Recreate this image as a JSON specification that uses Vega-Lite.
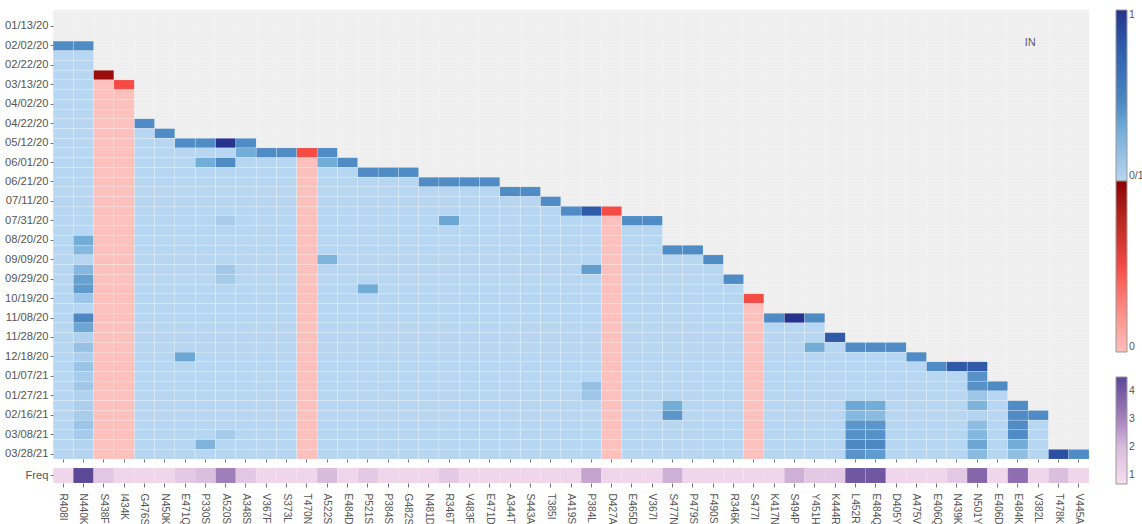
{"$schema":"https://vega.github.io/schema/vega-lite/v6.json","padding":{"left":4,"top":10,"right":0,"bottom":0},"bounds":"flush","spacing":9,"background":"#ffffff","config":{"view":{"stroke":null},"font":"Liberation Sans","axis":{"labelFont":"Liberation Sans","labelFontSize":11.2,"labelColor":"#555555","tickColor":"#777777","domain":false,"title":null},"legend":{"labelFont":"Liberation Sans","labelFontSize":10.5,"labelOffset":3,"labelColor":"#555555"}},
"datasets":{"cells":[
{"m":"R408I","d":"02/02/20","v":1.45},{"m":"R408I","d":"02/12/20","v":1},{"m":"R408I","d":"02/22/20","v":1},{"m":"R408I","d":"03/03/20","v":1},{"m":"R408I","d":"03/13/20","v":1},{"m":"R408I","d":"03/23/20","v":1},{"m":"R408I","d":"04/02/20","v":1},{"m":"R408I","d":"04/12/20","v":1},{"m":"R408I","d":"04/22/20","v":1},{"m":"R408I","d":"05/02/20","v":1},{"m":"R408I","d":"05/12/20","v":1},{"m":"R408I","d":"05/22/20","v":1},{"m":"R408I","d":"06/01/20","v":1},{"m":"R408I","d":"06/11/20","v":1},{"m":"R408I","d":"06/21/20","v":1},{"m":"R408I","d":"07/01/20","v":1},{"m":"R408I","d":"07/11/20","v":1},{"m":"R408I","d":"07/21/20","v":1},{"m":"R408I","d":"07/31/20","v":1},{"m":"R408I","d":"08/10/20","v":1},{"m":"R408I","d":"08/20/20","v":1},{"m":"R408I","d":"08/30/20","v":1},{"m":"R408I","d":"09/09/20","v":1},{"m":"R408I","d":"09/19/20","v":1},{"m":"R408I","d":"09/29/20","v":1},{"m":"R408I","d":"10/09/20","v":1},{"m":"R408I","d":"10/19/20","v":1},{"m":"R408I","d":"10/29/20","v":1},{"m":"R408I","d":"11/08/20","v":1},{"m":"R408I","d":"11/18/20","v":1},{"m":"R408I","d":"11/28/20","v":1},{"m":"R408I","d":"12/08/20","v":1},{"m":"R408I","d":"12/18/20","v":1},{"m":"R408I","d":"12/28/20","v":1},{"m":"R408I","d":"01/07/21","v":1},{"m":"R408I","d":"01/17/21","v":1},{"m":"R408I","d":"01/27/21","v":1},{"m":"R408I","d":"02/06/21","v":1},{"m":"R408I","d":"02/16/21","v":1},{"m":"R408I","d":"02/26/21","v":1},{"m":"R408I","d":"03/08/21","v":1},{"m":"R408I","d":"03/18/21","v":1},{"m":"R408I","d":"03/28/21","v":1},
{"m":"N440K","d":"02/02/20","v":1.45},{"m":"N440K","d":"02/12/20","v":1},{"m":"N440K","d":"02/22/20","v":1},{"m":"N440K","d":"03/03/20","v":1},{"m":"N440K","d":"03/13/20","v":1},{"m":"N440K","d":"03/23/20","v":1},{"m":"N440K","d":"04/02/20","v":1},{"m":"N440K","d":"04/12/20","v":1},{"m":"N440K","d":"04/22/20","v":1},{"m":"N440K","d":"05/02/20","v":1},{"m":"N440K","d":"05/12/20","v":1},{"m":"N440K","d":"05/22/20","v":1},{"m":"N440K","d":"06/01/20","v":1},{"m":"N440K","d":"06/11/20","v":1},{"m":"N440K","d":"06/21/20","v":1},{"m":"N440K","d":"07/01/20","v":1},{"m":"N440K","d":"07/11/20","v":1},{"m":"N440K","d":"07/21/20","v":1},{"m":"N440K","d":"07/31/20","v":1},{"m":"N440K","d":"08/10/20","v":1},{"m":"N440K","d":"08/20/20","v":1.3},{"m":"N440K","d":"08/30/20","v":1.22},{"m":"N440K","d":"09/09/20","v":1},{"m":"N440K","d":"09/19/20","v":1.22},{"m":"N440K","d":"09/29/20","v":1.35},{"m":"N440K","d":"10/09/20","v":1.38},{"m":"N440K","d":"10/19/20","v":1.12},{"m":"N440K","d":"10/29/20","v":1},{"m":"N440K","d":"11/08/20","v":1.47},{"m":"N440K","d":"11/18/20","v":1.33},{"m":"N440K","d":"11/28/20","v":1.03},{"m":"N440K","d":"12/08/20","v":1.15},{"m":"N440K","d":"12/18/20","v":1.05},{"m":"N440K","d":"12/28/20","v":1.13},{"m":"N440K","d":"01/07/21","v":1.07},{"m":"N440K","d":"01/17/21","v":1.1},{"m":"N440K","d":"01/27/21","v":1.03},{"m":"N440K","d":"02/06/21","v":1.05},{"m":"N440K","d":"02/16/21","v":1.07},{"m":"N440K","d":"02/26/21","v":1.12},{"m":"N440K","d":"03/08/21","v":1.08},{"m":"N440K","d":"03/18/21","v":1.02},{"m":"N440K","d":"03/28/21","v":1.02},
{"m":"S438F","d":"03/03/20","v":0.93},{"m":"S438F","d":"03/13/20","v":0},{"m":"S438F","d":"03/23/20","v":0},{"m":"S438F","d":"04/02/20","v":0},{"m":"S438F","d":"04/12/20","v":0},{"m":"S438F","d":"04/22/20","v":0},{"m":"S438F","d":"05/02/20","v":0},{"m":"S438F","d":"05/12/20","v":0},{"m":"S438F","d":"05/22/20","v":0},{"m":"S438F","d":"06/01/20","v":0},{"m":"S438F","d":"06/11/20","v":0},{"m":"S438F","d":"06/21/20","v":0},{"m":"S438F","d":"07/01/20","v":0},{"m":"S438F","d":"07/11/20","v":0},{"m":"S438F","d":"07/21/20","v":0},{"m":"S438F","d":"07/31/20","v":0},{"m":"S438F","d":"08/10/20","v":0},{"m":"S438F","d":"08/20/20","v":0},{"m":"S438F","d":"08/30/20","v":0},{"m":"S438F","d":"09/09/20","v":0},{"m":"S438F","d":"09/19/20","v":0},{"m":"S438F","d":"09/29/20","v":0},{"m":"S438F","d":"10/09/20","v":0},{"m":"S438F","d":"10/19/20","v":0},{"m":"S438F","d":"10/29/20","v":0},{"m":"S438F","d":"11/08/20","v":0},{"m":"S438F","d":"11/18/20","v":0},{"m":"S438F","d":"11/28/20","v":0},{"m":"S438F","d":"12/08/20","v":0},{"m":"S438F","d":"12/18/20","v":0},{"m":"S438F","d":"12/28/20","v":0},{"m":"S438F","d":"01/07/21","v":0},{"m":"S438F","d":"01/17/21","v":0},{"m":"S438F","d":"01/27/21","v":0},{"m":"S438F","d":"02/06/21","v":0},{"m":"S438F","d":"02/16/21","v":0},{"m":"S438F","d":"02/26/21","v":0},{"m":"S438F","d":"03/08/21","v":0},{"m":"S438F","d":"03/18/21","v":0},{"m":"S438F","d":"03/28/21","v":0},
{"m":"I434K","d":"03/13/20","v":0.5},{"m":"I434K","d":"03/23/20","v":0},{"m":"I434K","d":"04/02/20","v":0},{"m":"I434K","d":"04/12/20","v":0},{"m":"I434K","d":"04/22/20","v":0},{"m":"I434K","d":"05/02/20","v":0},{"m":"I434K","d":"05/12/20","v":0},{"m":"I434K","d":"05/22/20","v":0},{"m":"I434K","d":"06/01/20","v":0},{"m":"I434K","d":"06/11/20","v":0},{"m":"I434K","d":"06/21/20","v":0},{"m":"I434K","d":"07/01/20","v":0},{"m":"I434K","d":"07/11/20","v":0},{"m":"I434K","d":"07/21/20","v":0},{"m":"I434K","d":"07/31/20","v":0},{"m":"I434K","d":"08/10/20","v":0},{"m":"I434K","d":"08/20/20","v":0},{"m":"I434K","d":"08/30/20","v":0},{"m":"I434K","d":"09/09/20","v":0},{"m":"I434K","d":"09/19/20","v":0},{"m":"I434K","d":"09/29/20","v":0},{"m":"I434K","d":"10/09/20","v":0},{"m":"I434K","d":"10/19/20","v":0},{"m":"I434K","d":"10/29/20","v":0},{"m":"I434K","d":"11/08/20","v":0},{"m":"I434K","d":"11/18/20","v":0},{"m":"I434K","d":"11/28/20","v":0},{"m":"I434K","d":"12/08/20","v":0},{"m":"I434K","d":"12/18/20","v":0},{"m":"I434K","d":"12/28/20","v":0},{"m":"I434K","d":"01/07/21","v":0},{"m":"I434K","d":"01/17/21","v":0},{"m":"I434K","d":"01/27/21","v":0},{"m":"I434K","d":"02/06/21","v":0},{"m":"I434K","d":"02/16/21","v":0},{"m":"I434K","d":"02/26/21","v":0},{"m":"I434K","d":"03/08/21","v":0},{"m":"I434K","d":"03/18/21","v":0},{"m":"I434K","d":"03/28/21","v":0},
{"m":"G476S","d":"04/22/20","v":1.45},{"m":"G476S","d":"05/02/20","v":1},{"m":"G476S","d":"05/12/20","v":1},{"m":"G476S","d":"05/22/20","v":1},{"m":"G476S","d":"06/01/20","v":1},{"m":"G476S","d":"06/11/20","v":1},{"m":"G476S","d":"06/21/20","v":1},{"m":"G476S","d":"07/01/20","v":1},{"m":"G476S","d":"07/11/20","v":1},{"m":"G476S","d":"07/21/20","v":1},{"m":"G476S","d":"07/31/20","v":1},{"m":"G476S","d":"08/10/20","v":1},{"m":"G476S","d":"08/20/20","v":1},{"m":"G476S","d":"08/30/20","v":1},{"m":"G476S","d":"09/09/20","v":1},{"m":"G476S","d":"09/19/20","v":1},{"m":"G476S","d":"09/29/20","v":1},{"m":"G476S","d":"10/09/20","v":1},{"m":"G476S","d":"10/19/20","v":1},{"m":"G476S","d":"10/29/20","v":1},{"m":"G476S","d":"11/08/20","v":1},{"m":"G476S","d":"11/18/20","v":1},{"m":"G476S","d":"11/28/20","v":1},{"m":"G476S","d":"12/08/20","v":1},{"m":"G476S","d":"12/18/20","v":1},{"m":"G476S","d":"12/28/20","v":1},{"m":"G476S","d":"01/07/21","v":1},{"m":"G476S","d":"01/17/21","v":1},{"m":"G476S","d":"01/27/21","v":1},{"m":"G476S","d":"02/06/21","v":1},{"m":"G476S","d":"02/16/21","v":1},{"m":"G476S","d":"02/26/21","v":1},{"m":"G476S","d":"03/08/21","v":1},{"m":"G476S","d":"03/18/21","v":1},{"m":"G476S","d":"03/28/21","v":1},
{"m":"N450K","d":"05/02/20","v":1.45},{"m":"N450K","d":"05/12/20","v":1},{"m":"N450K","d":"05/22/20","v":1},{"m":"N450K","d":"06/01/20","v":1},{"m":"N450K","d":"06/11/20","v":1},{"m":"N450K","d":"06/21/20","v":1},{"m":"N450K","d":"07/01/20","v":1},{"m":"N450K","d":"07/11/20","v":1},{"m":"N450K","d":"07/21/20","v":1},{"m":"N450K","d":"07/31/20","v":1},{"m":"N450K","d":"08/10/20","v":1},{"m":"N450K","d":"08/20/20","v":1},{"m":"N450K","d":"08/30/20","v":1},{"m":"N450K","d":"09/09/20","v":1},{"m":"N450K","d":"09/19/20","v":1},{"m":"N450K","d":"09/29/20","v":1},{"m":"N450K","d":"10/09/20","v":1},{"m":"N450K","d":"10/19/20","v":1},{"m":"N450K","d":"10/29/20","v":1},{"m":"N450K","d":"11/08/20","v":1},{"m":"N450K","d":"11/18/20","v":1},{"m":"N450K","d":"11/28/20","v":1},{"m":"N450K","d":"12/08/20","v":1},{"m":"N450K","d":"12/18/20","v":1},{"m":"N450K","d":"12/28/20","v":1},{"m":"N450K","d":"01/07/21","v":1},{"m":"N450K","d":"01/17/21","v":1},{"m":"N450K","d":"01/27/21","v":1},{"m":"N450K","d":"02/06/21","v":1},{"m":"N450K","d":"02/16/21","v":1},{"m":"N450K","d":"02/26/21","v":1},{"m":"N450K","d":"03/08/21","v":1},{"m":"N450K","d":"03/18/21","v":1},{"m":"N450K","d":"03/28/21","v":1},
{"m":"E471Q","d":"05/12/20","v":1.45},{"m":"E471Q","d":"05/22/20","v":1},{"m":"E471Q","d":"06/01/20","v":1},{"m":"E471Q","d":"06/11/20","v":1},{"m":"E471Q","d":"06/21/20","v":1},{"m":"E471Q","d":"07/01/20","v":1},{"m":"E471Q","d":"07/11/20","v":1},{"m":"E471Q","d":"07/21/20","v":1},{"m":"E471Q","d":"07/31/20","v":1},{"m":"E471Q","d":"08/10/20","v":1},{"m":"E471Q","d":"08/20/20","v":1},{"m":"E471Q","d":"08/30/20","v":1},{"m":"E471Q","d":"09/09/20","v":1},{"m":"E471Q","d":"09/19/20","v":1},{"m":"E471Q","d":"09/29/20","v":1},{"m":"E471Q","d":"10/09/20","v":1},{"m":"E471Q","d":"10/19/20","v":1},{"m":"E471Q","d":"10/29/20","v":1},{"m":"E471Q","d":"11/08/20","v":1},{"m":"E471Q","d":"11/18/20","v":1},{"m":"E471Q","d":"11/28/20","v":1},{"m":"E471Q","d":"12/08/20","v":1},{"m":"E471Q","d":"12/18/20","v":1.33},{"m":"E471Q","d":"12/28/20","v":1},{"m":"E471Q","d":"01/07/21","v":1},{"m":"E471Q","d":"01/17/21","v":1},{"m":"E471Q","d":"01/27/21","v":1},{"m":"E471Q","d":"02/06/21","v":1},{"m":"E471Q","d":"02/16/21","v":1},{"m":"E471Q","d":"02/26/21","v":1},{"m":"E471Q","d":"03/08/21","v":1},{"m":"E471Q","d":"03/18/21","v":1},{"m":"E471Q","d":"03/28/21","v":1},
{"m":"P330S","d":"05/12/20","v":1.45},{"m":"P330S","d":"05/22/20","v":1},{"m":"P330S","d":"06/01/20","v":1.3},{"m":"P330S","d":"06/11/20","v":1},{"m":"P330S","d":"06/21/20","v":1},{"m":"P330S","d":"07/01/20","v":1},{"m":"P330S","d":"07/11/20","v":1},{"m":"P330S","d":"07/21/20","v":1},{"m":"P330S","d":"07/31/20","v":1},{"m":"P330S","d":"08/10/20","v":1},{"m":"P330S","d":"08/20/20","v":1},{"m":"P330S","d":"08/30/20","v":1},{"m":"P330S","d":"09/09/20","v":1},{"m":"P330S","d":"09/19/20","v":1},{"m":"P330S","d":"09/29/20","v":1},{"m":"P330S","d":"10/09/20","v":1},{"m":"P330S","d":"10/19/20","v":1},{"m":"P330S","d":"10/29/20","v":1},{"m":"P330S","d":"11/08/20","v":1},{"m":"P330S","d":"11/18/20","v":1},{"m":"P330S","d":"11/28/20","v":1},{"m":"P330S","d":"12/08/20","v":1},{"m":"P330S","d":"12/18/20","v":1},{"m":"P330S","d":"12/28/20","v":1},{"m":"P330S","d":"01/07/21","v":1},{"m":"P330S","d":"01/17/21","v":1},{"m":"P330S","d":"01/27/21","v":1},{"m":"P330S","d":"02/06/21","v":1},{"m":"P330S","d":"02/16/21","v":1},{"m":"P330S","d":"02/26/21","v":1},{"m":"P330S","d":"03/08/21","v":1},{"m":"P330S","d":"03/18/21","v":1.25},{"m":"P330S","d":"03/28/21","v":1},
{"m":"A520S","d":"05/12/20","v":2},{"m":"A520S","d":"05/22/20","v":1},{"m":"A520S","d":"06/01/20","v":1.45},{"m":"A520S","d":"06/11/20","v":1},{"m":"A520S","d":"06/21/20","v":1},{"m":"A520S","d":"07/01/20","v":1},{"m":"A520S","d":"07/11/20","v":1},{"m":"A520S","d":"07/21/20","v":1},{"m":"A520S","d":"07/31/20","v":1.07},{"m":"A520S","d":"08/10/20","v":1},{"m":"A520S","d":"08/20/20","v":1},{"m":"A520S","d":"08/30/20","v":1},{"m":"A520S","d":"09/09/20","v":1},{"m":"A520S","d":"09/19/20","v":1.1},{"m":"A520S","d":"09/29/20","v":1.08},{"m":"A520S","d":"10/09/20","v":1},{"m":"A520S","d":"10/19/20","v":1},{"m":"A520S","d":"10/29/20","v":1},{"m":"A520S","d":"11/08/20","v":1},{"m":"A520S","d":"11/18/20","v":1},{"m":"A520S","d":"11/28/20","v":1},{"m":"A520S","d":"12/08/20","v":1},{"m":"A520S","d":"12/18/20","v":1},{"m":"A520S","d":"12/28/20","v":1},{"m":"A520S","d":"01/07/21","v":1},{"m":"A520S","d":"01/17/21","v":1},{"m":"A520S","d":"01/27/21","v":1},{"m":"A520S","d":"02/06/21","v":1},{"m":"A520S","d":"02/16/21","v":1},{"m":"A520S","d":"02/26/21","v":1},{"m":"A520S","d":"03/08/21","v":1.08},{"m":"A520S","d":"03/18/21","v":1},{"m":"A520S","d":"03/28/21","v":1},
{"m":"A348S","d":"05/12/20","v":1.45},{"m":"A348S","d":"05/22/20","v":1.3},{"m":"A348S","d":"06/01/20","v":1},{"m":"A348S","d":"06/11/20","v":1},{"m":"A348S","d":"06/21/20","v":1},{"m":"A348S","d":"07/01/20","v":1},{"m":"A348S","d":"07/11/20","v":1},{"m":"A348S","d":"07/21/20","v":1},{"m":"A348S","d":"07/31/20","v":1},{"m":"A348S","d":"08/10/20","v":1},{"m":"A348S","d":"08/20/20","v":1},{"m":"A348S","d":"08/30/20","v":1},{"m":"A348S","d":"09/09/20","v":1},{"m":"A348S","d":"09/19/20","v":1},{"m":"A348S","d":"09/29/20","v":1},{"m":"A348S","d":"10/09/20","v":1},{"m":"A348S","d":"10/19/20","v":1},{"m":"A348S","d":"10/29/20","v":1},{"m":"A348S","d":"11/08/20","v":1},{"m":"A348S","d":"11/18/20","v":1},{"m":"A348S","d":"11/28/20","v":1},{"m":"A348S","d":"12/08/20","v":1},{"m":"A348S","d":"12/18/20","v":1},{"m":"A348S","d":"12/28/20","v":1},{"m":"A348S","d":"01/07/21","v":1},{"m":"A348S","d":"01/17/21","v":1},{"m":"A348S","d":"01/27/21","v":1},{"m":"A348S","d":"02/06/21","v":1},{"m":"A348S","d":"02/16/21","v":1},{"m":"A348S","d":"02/26/21","v":1},{"m":"A348S","d":"03/08/21","v":1},{"m":"A348S","d":"03/18/21","v":1},{"m":"A348S","d":"03/28/21","v":1},
{"m":"V367F","d":"05/22/20","v":1.45},{"m":"V367F","d":"06/01/20","v":1},{"m":"V367F","d":"06/11/20","v":1},{"m":"V367F","d":"06/21/20","v":1},{"m":"V367F","d":"07/01/20","v":1},{"m":"V367F","d":"07/11/20","v":1},{"m":"V367F","d":"07/21/20","v":1},{"m":"V367F","d":"07/31/20","v":1},{"m":"V367F","d":"08/10/20","v":1},{"m":"V367F","d":"08/20/20","v":1},{"m":"V367F","d":"08/30/20","v":1},{"m":"V367F","d":"09/09/20","v":1},{"m":"V367F","d":"09/19/20","v":1},{"m":"V367F","d":"09/29/20","v":1},{"m":"V367F","d":"10/09/20","v":1},{"m":"V367F","d":"10/19/20","v":1},{"m":"V367F","d":"10/29/20","v":1},{"m":"V367F","d":"11/08/20","v":1},{"m":"V367F","d":"11/18/20","v":1},{"m":"V367F","d":"11/28/20","v":1},{"m":"V367F","d":"12/08/20","v":1},{"m":"V367F","d":"12/18/20","v":1},{"m":"V367F","d":"12/28/20","v":1},{"m":"V367F","d":"01/07/21","v":1},{"m":"V367F","d":"01/17/21","v":1},{"m":"V367F","d":"01/27/21","v":1},{"m":"V367F","d":"02/06/21","v":1},{"m":"V367F","d":"02/16/21","v":1},{"m":"V367F","d":"02/26/21","v":1},{"m":"V367F","d":"03/08/21","v":1},{"m":"V367F","d":"03/18/21","v":1},{"m":"V367F","d":"03/28/21","v":1},
{"m":"S373L","d":"05/22/20","v":1.45},{"m":"S373L","d":"06/01/20","v":1},{"m":"S373L","d":"06/11/20","v":1},{"m":"S373L","d":"06/21/20","v":1},{"m":"S373L","d":"07/01/20","v":1},{"m":"S373L","d":"07/11/20","v":1},{"m":"S373L","d":"07/21/20","v":1},{"m":"S373L","d":"07/31/20","v":1},{"m":"S373L","d":"08/10/20","v":1},{"m":"S373L","d":"08/20/20","v":1},{"m":"S373L","d":"08/30/20","v":1},{"m":"S373L","d":"09/09/20","v":1},{"m":"S373L","d":"09/19/20","v":1},{"m":"S373L","d":"09/29/20","v":1},{"m":"S373L","d":"10/09/20","v":1},{"m":"S373L","d":"10/19/20","v":1},{"m":"S373L","d":"10/29/20","v":1},{"m":"S373L","d":"11/08/20","v":1},{"m":"S373L","d":"11/18/20","v":1},{"m":"S373L","d":"11/28/20","v":1},{"m":"S373L","d":"12/08/20","v":1},{"m":"S373L","d":"12/18/20","v":1},{"m":"S373L","d":"12/28/20","v":1},{"m":"S373L","d":"01/07/21","v":1},{"m":"S373L","d":"01/17/21","v":1},{"m":"S373L","d":"01/27/21","v":1},{"m":"S373L","d":"02/06/21","v":1},{"m":"S373L","d":"02/16/21","v":1},{"m":"S373L","d":"02/26/21","v":1},{"m":"S373L","d":"03/08/21","v":1},{"m":"S373L","d":"03/18/21","v":1},{"m":"S373L","d":"03/28/21","v":1},
{"m":"T470N","d":"05/22/20","v":0.5},{"m":"T470N","d":"06/01/20","v":0},{"m":"T470N","d":"06/11/20","v":0},{"m":"T470N","d":"06/21/20","v":0},{"m":"T470N","d":"07/01/20","v":0},{"m":"T470N","d":"07/11/20","v":0},{"m":"T470N","d":"07/21/20","v":0},{"m":"T470N","d":"07/31/20","v":0},{"m":"T470N","d":"08/10/20","v":0},{"m":"T470N","d":"08/20/20","v":0},{"m":"T470N","d":"08/30/20","v":0},{"m":"T470N","d":"09/09/20","v":0},{"m":"T470N","d":"09/19/20","v":0},{"m":"T470N","d":"09/29/20","v":0},{"m":"T470N","d":"10/09/20","v":0},{"m":"T470N","d":"10/19/20","v":0},{"m":"T470N","d":"10/29/20","v":0},{"m":"T470N","d":"11/08/20","v":0},{"m":"T470N","d":"11/18/20","v":0},{"m":"T470N","d":"11/28/20","v":0},{"m":"T470N","d":"12/08/20","v":0},{"m":"T470N","d":"12/18/20","v":0},{"m":"T470N","d":"12/28/20","v":0},{"m":"T470N","d":"01/07/21","v":0},{"m":"T470N","d":"01/17/21","v":0},{"m":"T470N","d":"01/27/21","v":0},{"m":"T470N","d":"02/06/21","v":0},{"m":"T470N","d":"02/16/21","v":0},{"m":"T470N","d":"02/26/21","v":0},{"m":"T470N","d":"03/08/21","v":0},{"m":"T470N","d":"03/18/21","v":0},{"m":"T470N","d":"03/28/21","v":0},
{"m":"A522S","d":"05/22/20","v":1.45},{"m":"A522S","d":"06/01/20","v":1.3},{"m":"A522S","d":"06/11/20","v":1},{"m":"A522S","d":"06/21/20","v":1},{"m":"A522S","d":"07/01/20","v":1},{"m":"A522S","d":"07/11/20","v":1},{"m":"A522S","d":"07/21/20","v":1},{"m":"A522S","d":"07/31/20","v":1},{"m":"A522S","d":"08/10/20","v":1},{"m":"A522S","d":"08/20/20","v":1},{"m":"A522S","d":"08/30/20","v":1},{"m":"A522S","d":"09/09/20","v":1.25},{"m":"A522S","d":"09/19/20","v":1},{"m":"A522S","d":"09/29/20","v":1},{"m":"A522S","d":"10/09/20","v":1},{"m":"A522S","d":"10/19/20","v":1},{"m":"A522S","d":"10/29/20","v":1},{"m":"A522S","d":"11/08/20","v":1},{"m":"A522S","d":"11/18/20","v":1},{"m":"A522S","d":"11/28/20","v":1},{"m":"A522S","d":"12/08/20","v":1},{"m":"A522S","d":"12/18/20","v":1},{"m":"A522S","d":"12/28/20","v":1},{"m":"A522S","d":"01/07/21","v":1},{"m":"A522S","d":"01/17/21","v":1},{"m":"A522S","d":"01/27/21","v":1},{"m":"A522S","d":"02/06/21","v":1},{"m":"A522S","d":"02/16/21","v":1},{"m":"A522S","d":"02/26/21","v":1},{"m":"A522S","d":"03/08/21","v":1},{"m":"A522S","d":"03/18/21","v":1},{"m":"A522S","d":"03/28/21","v":1},
{"m":"E484D","d":"06/01/20","v":1.45},{"m":"E484D","d":"06/11/20","v":1},{"m":"E484D","d":"06/21/20","v":1},{"m":"E484D","d":"07/01/20","v":1},{"m":"E484D","d":"07/11/20","v":1},{"m":"E484D","d":"07/21/20","v":1},{"m":"E484D","d":"07/31/20","v":1},{"m":"E484D","d":"08/10/20","v":1},{"m":"E484D","d":"08/20/20","v":1},{"m":"E484D","d":"08/30/20","v":1},{"m":"E484D","d":"09/09/20","v":1},{"m":"E484D","d":"09/19/20","v":1},{"m":"E484D","d":"09/29/20","v":1},{"m":"E484D","d":"10/09/20","v":1},{"m":"E484D","d":"10/19/20","v":1},{"m":"E484D","d":"10/29/20","v":1},{"m":"E484D","d":"11/08/20","v":1},{"m":"E484D","d":"11/18/20","v":1},{"m":"E484D","d":"11/28/20","v":1},{"m":"E484D","d":"12/08/20","v":1},{"m":"E484D","d":"12/18/20","v":1},{"m":"E484D","d":"12/28/20","v":1},{"m":"E484D","d":"01/07/21","v":1},{"m":"E484D","d":"01/17/21","v":1},{"m":"E484D","d":"01/27/21","v":1},{"m":"E484D","d":"02/06/21","v":1},{"m":"E484D","d":"02/16/21","v":1},{"m":"E484D","d":"02/26/21","v":1},{"m":"E484D","d":"03/08/21","v":1},{"m":"E484D","d":"03/18/21","v":1},{"m":"E484D","d":"03/28/21","v":1},
{"m":"P521S","d":"06/11/20","v":1.45},{"m":"P521S","d":"06/21/20","v":1},{"m":"P521S","d":"07/01/20","v":1},{"m":"P521S","d":"07/11/20","v":1},{"m":"P521S","d":"07/21/20","v":1},{"m":"P521S","d":"07/31/20","v":1},{"m":"P521S","d":"08/10/20","v":1},{"m":"P521S","d":"08/20/20","v":1},{"m":"P521S","d":"08/30/20","v":1},{"m":"P521S","d":"09/09/20","v":1},{"m":"P521S","d":"09/19/20","v":1},{"m":"P521S","d":"09/29/20","v":1},{"m":"P521S","d":"10/09/20","v":1.3},{"m":"P521S","d":"10/19/20","v":1},{"m":"P521S","d":"10/29/20","v":1},{"m":"P521S","d":"11/08/20","v":1},{"m":"P521S","d":"11/18/20","v":1},{"m":"P521S","d":"11/28/20","v":1},{"m":"P521S","d":"12/08/20","v":1},{"m":"P521S","d":"12/18/20","v":1},{"m":"P521S","d":"12/28/20","v":1},{"m":"P521S","d":"01/07/21","v":1},{"m":"P521S","d":"01/17/21","v":1},{"m":"P521S","d":"01/27/21","v":1},{"m":"P521S","d":"02/06/21","v":1},{"m":"P521S","d":"02/16/21","v":1},{"m":"P521S","d":"02/26/21","v":1},{"m":"P521S","d":"03/08/21","v":1},{"m":"P521S","d":"03/18/21","v":1},{"m":"P521S","d":"03/28/21","v":1},
{"m":"P384S","d":"06/11/20","v":1.45},{"m":"P384S","d":"06/21/20","v":1},{"m":"P384S","d":"07/01/20","v":1},{"m":"P384S","d":"07/11/20","v":1},{"m":"P384S","d":"07/21/20","v":1},{"m":"P384S","d":"07/31/20","v":1},{"m":"P384S","d":"08/10/20","v":1},{"m":"P384S","d":"08/20/20","v":1},{"m":"P384S","d":"08/30/20","v":1},{"m":"P384S","d":"09/09/20","v":1},{"m":"P384S","d":"09/19/20","v":1},{"m":"P384S","d":"09/29/20","v":1},{"m":"P384S","d":"10/09/20","v":1},{"m":"P384S","d":"10/19/20","v":1},{"m":"P384S","d":"10/29/20","v":1},{"m":"P384S","d":"11/08/20","v":1},{"m":"P384S","d":"11/18/20","v":1},{"m":"P384S","d":"11/28/20","v":1},{"m":"P384S","d":"12/08/20","v":1},{"m":"P384S","d":"12/18/20","v":1},{"m":"P384S","d":"12/28/20","v":1},{"m":"P384S","d":"01/07/21","v":1},{"m":"P384S","d":"01/17/21","v":1},{"m":"P384S","d":"01/27/21","v":1},{"m":"P384S","d":"02/06/21","v":1},{"m":"P384S","d":"02/16/21","v":1},{"m":"P384S","d":"02/26/21","v":1},{"m":"P384S","d":"03/08/21","v":1},{"m":"P384S","d":"03/18/21","v":1},{"m":"P384S","d":"03/28/21","v":1},
{"m":"G482S","d":"06/11/20","v":1.45},{"m":"G482S","d":"06/21/20","v":1},{"m":"G482S","d":"07/01/20","v":1},{"m":"G482S","d":"07/11/20","v":1},{"m":"G482S","d":"07/21/20","v":1},{"m":"G482S","d":"07/31/20","v":1},{"m":"G482S","d":"08/10/20","v":1},{"m":"G482S","d":"08/20/20","v":1},{"m":"G482S","d":"08/30/20","v":1},{"m":"G482S","d":"09/09/20","v":1},{"m":"G482S","d":"09/19/20","v":1},{"m":"G482S","d":"09/29/20","v":1},{"m":"G482S","d":"10/09/20","v":1},{"m":"G482S","d":"10/19/20","v":1},{"m":"G482S","d":"10/29/20","v":1},{"m":"G482S","d":"11/08/20","v":1},{"m":"G482S","d":"11/18/20","v":1},{"m":"G482S","d":"11/28/20","v":1},{"m":"G482S","d":"12/08/20","v":1},{"m":"G482S","d":"12/18/20","v":1},{"m":"G482S","d":"12/28/20","v":1},{"m":"G482S","d":"01/07/21","v":1},{"m":"G482S","d":"01/17/21","v":1},{"m":"G482S","d":"01/27/21","v":1},{"m":"G482S","d":"02/06/21","v":1},{"m":"G482S","d":"02/16/21","v":1},{"m":"G482S","d":"02/26/21","v":1},{"m":"G482S","d":"03/08/21","v":1},{"m":"G482S","d":"03/18/21","v":1},{"m":"G482S","d":"03/28/21","v":1},
{"m":"N481D","d":"06/21/20","v":1.45},{"m":"N481D","d":"07/01/20","v":1},{"m":"N481D","d":"07/11/20","v":1},{"m":"N481D","d":"07/21/20","v":1},{"m":"N481D","d":"07/31/20","v":1},{"m":"N481D","d":"08/10/20","v":1},{"m":"N481D","d":"08/20/20","v":1},{"m":"N481D","d":"08/30/20","v":1},{"m":"N481D","d":"09/09/20","v":1},{"m":"N481D","d":"09/19/20","v":1},{"m":"N481D","d":"09/29/20","v":1},{"m":"N481D","d":"10/09/20","v":1},{"m":"N481D","d":"10/19/20","v":1},{"m":"N481D","d":"10/29/20","v":1},{"m":"N481D","d":"11/08/20","v":1},{"m":"N481D","d":"11/18/20","v":1},{"m":"N481D","d":"11/28/20","v":1},{"m":"N481D","d":"12/08/20","v":1},{"m":"N481D","d":"12/18/20","v":1},{"m":"N481D","d":"12/28/20","v":1},{"m":"N481D","d":"01/07/21","v":1},{"m":"N481D","d":"01/17/21","v":1},{"m":"N481D","d":"01/27/21","v":1},{"m":"N481D","d":"02/06/21","v":1},{"m":"N481D","d":"02/16/21","v":1},{"m":"N481D","d":"02/26/21","v":1},{"m":"N481D","d":"03/08/21","v":1},{"m":"N481D","d":"03/18/21","v":1},{"m":"N481D","d":"03/28/21","v":1},
{"m":"R346T","d":"06/21/20","v":1.45},{"m":"R346T","d":"07/01/20","v":1},{"m":"R346T","d":"07/11/20","v":1},{"m":"R346T","d":"07/21/20","v":1},{"m":"R346T","d":"07/31/20","v":1.33},{"m":"R346T","d":"08/10/20","v":1},{"m":"R346T","d":"08/20/20","v":1},{"m":"R346T","d":"08/30/20","v":1},{"m":"R346T","d":"09/09/20","v":1},{"m":"R346T","d":"09/19/20","v":1},{"m":"R346T","d":"09/29/20","v":1},{"m":"R346T","d":"10/09/20","v":1},{"m":"R346T","d":"10/19/20","v":1},{"m":"R346T","d":"10/29/20","v":1},{"m":"R346T","d":"11/08/20","v":1},{"m":"R346T","d":"11/18/20","v":1},{"m":"R346T","d":"11/28/20","v":1},{"m":"R346T","d":"12/08/20","v":1},{"m":"R346T","d":"12/18/20","v":1},{"m":"R346T","d":"12/28/20","v":1},{"m":"R346T","d":"01/07/21","v":1},{"m":"R346T","d":"01/17/21","v":1},{"m":"R346T","d":"01/27/21","v":1},{"m":"R346T","d":"02/06/21","v":1},{"m":"R346T","d":"02/16/21","v":1},{"m":"R346T","d":"02/26/21","v":1},{"m":"R346T","d":"03/08/21","v":1},{"m":"R346T","d":"03/18/21","v":1},{"m":"R346T","d":"03/28/21","v":1},
{"m":"V483F","d":"06/21/20","v":1.45},{"m":"V483F","d":"07/01/20","v":1},{"m":"V483F","d":"07/11/20","v":1},{"m":"V483F","d":"07/21/20","v":1},{"m":"V483F","d":"07/31/20","v":1},{"m":"V483F","d":"08/10/20","v":1},{"m":"V483F","d":"08/20/20","v":1},{"m":"V483F","d":"08/30/20","v":1},{"m":"V483F","d":"09/09/20","v":1},{"m":"V483F","d":"09/19/20","v":1},{"m":"V483F","d":"09/29/20","v":1},{"m":"V483F","d":"10/09/20","v":1},{"m":"V483F","d":"10/19/20","v":1},{"m":"V483F","d":"10/29/20","v":1},{"m":"V483F","d":"11/08/20","v":1},{"m":"V483F","d":"11/18/20","v":1},{"m":"V483F","d":"11/28/20","v":1},{"m":"V483F","d":"12/08/20","v":1},{"m":"V483F","d":"12/18/20","v":1},{"m":"V483F","d":"12/28/20","v":1},{"m":"V483F","d":"01/07/21","v":1},{"m":"V483F","d":"01/17/21","v":1},{"m":"V483F","d":"01/27/21","v":1},{"m":"V483F","d":"02/06/21","v":1},{"m":"V483F","d":"02/16/21","v":1},{"m":"V483F","d":"02/26/21","v":1},{"m":"V483F","d":"03/08/21","v":1},{"m":"V483F","d":"03/18/21","v":1},{"m":"V483F","d":"03/28/21","v":1},
{"m":"E471D","d":"06/21/20","v":1.45},{"m":"E471D","d":"07/01/20","v":1},{"m":"E471D","d":"07/11/20","v":1},{"m":"E471D","d":"07/21/20","v":1},{"m":"E471D","d":"07/31/20","v":1},{"m":"E471D","d":"08/10/20","v":1},{"m":"E471D","d":"08/20/20","v":1},{"m":"E471D","d":"08/30/20","v":1},{"m":"E471D","d":"09/09/20","v":1},{"m":"E471D","d":"09/19/20","v":1},{"m":"E471D","d":"09/29/20","v":1},{"m":"E471D","d":"10/09/20","v":1},{"m":"E471D","d":"10/19/20","v":1},{"m":"E471D","d":"10/29/20","v":1},{"m":"E471D","d":"11/08/20","v":1},{"m":"E471D","d":"11/18/20","v":1},{"m":"E471D","d":"11/28/20","v":1},{"m":"E471D","d":"12/08/20","v":1},{"m":"E471D","d":"12/18/20","v":1},{"m":"E471D","d":"12/28/20","v":1},{"m":"E471D","d":"01/07/21","v":1},{"m":"E471D","d":"01/17/21","v":1},{"m":"E471D","d":"01/27/21","v":1},{"m":"E471D","d":"02/06/21","v":1},{"m":"E471D","d":"02/16/21","v":1},{"m":"E471D","d":"02/26/21","v":1},{"m":"E471D","d":"03/08/21","v":1},{"m":"E471D","d":"03/18/21","v":1},{"m":"E471D","d":"03/28/21","v":1},
{"m":"A344T","d":"07/01/20","v":1.45},{"m":"A344T","d":"07/11/20","v":1},{"m":"A344T","d":"07/21/20","v":1},{"m":"A344T","d":"07/31/20","v":1},{"m":"A344T","d":"08/10/20","v":1},{"m":"A344T","d":"08/20/20","v":1},{"m":"A344T","d":"08/30/20","v":1},{"m":"A344T","d":"09/09/20","v":1},{"m":"A344T","d":"09/19/20","v":1},{"m":"A344T","d":"09/29/20","v":1},{"m":"A344T","d":"10/09/20","v":1},{"m":"A344T","d":"10/19/20","v":1},{"m":"A344T","d":"10/29/20","v":1},{"m":"A344T","d":"11/08/20","v":1},{"m":"A344T","d":"11/18/20","v":1},{"m":"A344T","d":"11/28/20","v":1},{"m":"A344T","d":"12/08/20","v":1},{"m":"A344T","d":"12/18/20","v":1},{"m":"A344T","d":"12/28/20","v":1},{"m":"A344T","d":"01/07/21","v":1},{"m":"A344T","d":"01/17/21","v":1},{"m":"A344T","d":"01/27/21","v":1},{"m":"A344T","d":"02/06/21","v":1},{"m":"A344T","d":"02/16/21","v":1},{"m":"A344T","d":"02/26/21","v":1},{"m":"A344T","d":"03/08/21","v":1},{"m":"A344T","d":"03/18/21","v":1},{"m":"A344T","d":"03/28/21","v":1},
{"m":"S443A","d":"07/01/20","v":1.45},{"m":"S443A","d":"07/11/20","v":1},{"m":"S443A","d":"07/21/20","v":1},{"m":"S443A","d":"07/31/20","v":1},{"m":"S443A","d":"08/10/20","v":1},{"m":"S443A","d":"08/20/20","v":1},{"m":"S443A","d":"08/30/20","v":1},{"m":"S443A","d":"09/09/20","v":1},{"m":"S443A","d":"09/19/20","v":1},{"m":"S443A","d":"09/29/20","v":1},{"m":"S443A","d":"10/09/20","v":1},{"m":"S443A","d":"10/19/20","v":1},{"m":"S443A","d":"10/29/20","v":1},{"m":"S443A","d":"11/08/20","v":1},{"m":"S443A","d":"11/18/20","v":1},{"m":"S443A","d":"11/28/20","v":1},{"m":"S443A","d":"12/08/20","v":1},{"m":"S443A","d":"12/18/20","v":1},{"m":"S443A","d":"12/28/20","v":1},{"m":"S443A","d":"01/07/21","v":1},{"m":"S443A","d":"01/17/21","v":1},{"m":"S443A","d":"01/27/21","v":1},{"m":"S443A","d":"02/06/21","v":1},{"m":"S443A","d":"02/16/21","v":1},{"m":"S443A","d":"02/26/21","v":1},{"m":"S443A","d":"03/08/21","v":1},{"m":"S443A","d":"03/18/21","v":1},{"m":"S443A","d":"03/28/21","v":1},
{"m":"T385I","d":"07/11/20","v":1.45},{"m":"T385I","d":"07/21/20","v":1},{"m":"T385I","d":"07/31/20","v":1},{"m":"T385I","d":"08/10/20","v":1},{"m":"T385I","d":"08/20/20","v":1},{"m":"T385I","d":"08/30/20","v":1},{"m":"T385I","d":"09/09/20","v":1},{"m":"T385I","d":"09/19/20","v":1},{"m":"T385I","d":"09/29/20","v":1},{"m":"T385I","d":"10/09/20","v":1},{"m":"T385I","d":"10/19/20","v":1},{"m":"T385I","d":"10/29/20","v":1},{"m":"T385I","d":"11/08/20","v":1},{"m":"T385I","d":"11/18/20","v":1},{"m":"T385I","d":"11/28/20","v":1},{"m":"T385I","d":"12/08/20","v":1},{"m":"T385I","d":"12/18/20","v":1},{"m":"T385I","d":"12/28/20","v":1},{"m":"T385I","d":"01/07/21","v":1},{"m":"T385I","d":"01/17/21","v":1},{"m":"T385I","d":"01/27/21","v":1},{"m":"T385I","d":"02/06/21","v":1},{"m":"T385I","d":"02/16/21","v":1},{"m":"T385I","d":"02/26/21","v":1},{"m":"T385I","d":"03/08/21","v":1},{"m":"T385I","d":"03/18/21","v":1},{"m":"T385I","d":"03/28/21","v":1},
{"m":"A419S","d":"07/21/20","v":1.45},{"m":"A419S","d":"07/31/20","v":1},{"m":"A419S","d":"08/10/20","v":1},{"m":"A419S","d":"08/20/20","v":1},{"m":"A419S","d":"08/30/20","v":1},{"m":"A419S","d":"09/09/20","v":1},{"m":"A419S","d":"09/19/20","v":1},{"m":"A419S","d":"09/29/20","v":1},{"m":"A419S","d":"10/09/20","v":1},{"m":"A419S","d":"10/19/20","v":1},{"m":"A419S","d":"10/29/20","v":1},{"m":"A419S","d":"11/08/20","v":1},{"m":"A419S","d":"11/18/20","v":1},{"m":"A419S","d":"11/28/20","v":1},{"m":"A419S","d":"12/08/20","v":1},{"m":"A419S","d":"12/18/20","v":1},{"m":"A419S","d":"12/28/20","v":1},{"m":"A419S","d":"01/07/21","v":1},{"m":"A419S","d":"01/17/21","v":1},{"m":"A419S","d":"01/27/21","v":1},{"m":"A419S","d":"02/06/21","v":1},{"m":"A419S","d":"02/16/21","v":1},{"m":"A419S","d":"02/26/21","v":1},{"m":"A419S","d":"03/08/21","v":1},{"m":"A419S","d":"03/18/21","v":1},{"m":"A419S","d":"03/28/21","v":1},
{"m":"P384L","d":"07/21/20","v":1.8},{"m":"P384L","d":"07/31/20","v":1},{"m":"P384L","d":"08/10/20","v":1},{"m":"P384L","d":"08/20/20","v":1},{"m":"P384L","d":"08/30/20","v":1},{"m":"P384L","d":"09/09/20","v":1},{"m":"P384L","d":"09/19/20","v":1.37},{"m":"P384L","d":"09/29/20","v":1},{"m":"P384L","d":"10/09/20","v":1},{"m":"P384L","d":"10/19/20","v":1},{"m":"P384L","d":"10/29/20","v":1},{"m":"P384L","d":"11/08/20","v":1},{"m":"P384L","d":"11/18/20","v":1},{"m":"P384L","d":"11/28/20","v":1},{"m":"P384L","d":"12/08/20","v":1},{"m":"P384L","d":"12/18/20","v":1},{"m":"P384L","d":"12/28/20","v":1},{"m":"P384L","d":"01/07/21","v":1},{"m":"P384L","d":"01/17/21","v":1.15},{"m":"P384L","d":"01/27/21","v":1.12},{"m":"P384L","d":"02/06/21","v":1},{"m":"P384L","d":"02/16/21","v":1},{"m":"P384L","d":"02/26/21","v":1},{"m":"P384L","d":"03/08/21","v":1},{"m":"P384L","d":"03/18/21","v":1},{"m":"P384L","d":"03/28/21","v":1},
{"m":"D427A","d":"07/21/20","v":0.5},{"m":"D427A","d":"07/31/20","v":0},{"m":"D427A","d":"08/10/20","v":0},{"m":"D427A","d":"08/20/20","v":0},{"m":"D427A","d":"08/30/20","v":0},{"m":"D427A","d":"09/09/20","v":0},{"m":"D427A","d":"09/19/20","v":0},{"m":"D427A","d":"09/29/20","v":0},{"m":"D427A","d":"10/09/20","v":0},{"m":"D427A","d":"10/19/20","v":0},{"m":"D427A","d":"10/29/20","v":0},{"m":"D427A","d":"11/08/20","v":0},{"m":"D427A","d":"11/18/20","v":0},{"m":"D427A","d":"11/28/20","v":0},{"m":"D427A","d":"12/08/20","v":0},{"m":"D427A","d":"12/18/20","v":0},{"m":"D427A","d":"12/28/20","v":0},{"m":"D427A","d":"01/07/21","v":0},{"m":"D427A","d":"01/17/21","v":0},{"m":"D427A","d":"01/27/21","v":0},{"m":"D427A","d":"02/06/21","v":0},{"m":"D427A","d":"02/16/21","v":0},{"m":"D427A","d":"02/26/21","v":0},{"m":"D427A","d":"03/08/21","v":0},{"m":"D427A","d":"03/18/21","v":0},{"m":"D427A","d":"03/28/21","v":0},
{"m":"E465D","d":"07/31/20","v":1.45},{"m":"E465D","d":"08/10/20","v":1},{"m":"E465D","d":"08/20/20","v":1},{"m":"E465D","d":"08/30/20","v":1},{"m":"E465D","d":"09/09/20","v":1},{"m":"E465D","d":"09/19/20","v":1},{"m":"E465D","d":"09/29/20","v":1},{"m":"E465D","d":"10/09/20","v":1},{"m":"E465D","d":"10/19/20","v":1},{"m":"E465D","d":"10/29/20","v":1},{"m":"E465D","d":"11/08/20","v":1},{"m":"E465D","d":"11/18/20","v":1},{"m":"E465D","d":"11/28/20","v":1},{"m":"E465D","d":"12/08/20","v":1},{"m":"E465D","d":"12/18/20","v":1},{"m":"E465D","d":"12/28/20","v":1},{"m":"E465D","d":"01/07/21","v":1},{"m":"E465D","d":"01/17/21","v":1},{"m":"E465D","d":"01/27/21","v":1},{"m":"E465D","d":"02/06/21","v":1},{"m":"E465D","d":"02/16/21","v":1},{"m":"E465D","d":"02/26/21","v":1},{"m":"E465D","d":"03/08/21","v":1},{"m":"E465D","d":"03/18/21","v":1},{"m":"E465D","d":"03/28/21","v":1},
{"m":"V367I","d":"07/31/20","v":1.45},{"m":"V367I","d":"08/10/20","v":1},{"m":"V367I","d":"08/20/20","v":1},{"m":"V367I","d":"08/30/20","v":1},{"m":"V367I","d":"09/09/20","v":1},{"m":"V367I","d":"09/19/20","v":1},{"m":"V367I","d":"09/29/20","v":1},{"m":"V367I","d":"10/09/20","v":1},{"m":"V367I","d":"10/19/20","v":1},{"m":"V367I","d":"10/29/20","v":1},{"m":"V367I","d":"11/08/20","v":1},{"m":"V367I","d":"11/18/20","v":1},{"m":"V367I","d":"11/28/20","v":1},{"m":"V367I","d":"12/08/20","v":1},{"m":"V367I","d":"12/18/20","v":1},{"m":"V367I","d":"12/28/20","v":1},{"m":"V367I","d":"01/07/21","v":1},{"m":"V367I","d":"01/17/21","v":1},{"m":"V367I","d":"01/27/21","v":1},{"m":"V367I","d":"02/06/21","v":1},{"m":"V367I","d":"02/16/21","v":1},{"m":"V367I","d":"02/26/21","v":1},{"m":"V367I","d":"03/08/21","v":1},{"m":"V367I","d":"03/18/21","v":1},{"m":"V367I","d":"03/28/21","v":1},
{"m":"S477N","d":"08/30/20","v":1.45},{"m":"S477N","d":"09/09/20","v":1},{"m":"S477N","d":"09/19/20","v":1},{"m":"S477N","d":"09/29/20","v":1},{"m":"S477N","d":"10/09/20","v":1},{"m":"S477N","d":"10/19/20","v":1},{"m":"S477N","d":"10/29/20","v":1},{"m":"S477N","d":"11/08/20","v":1},{"m":"S477N","d":"11/18/20","v":1},{"m":"S477N","d":"11/28/20","v":1},{"m":"S477N","d":"12/08/20","v":1},{"m":"S477N","d":"12/18/20","v":1},{"m":"S477N","d":"12/28/20","v":1},{"m":"S477N","d":"01/07/21","v":1},{"m":"S477N","d":"01/17/21","v":1},{"m":"S477N","d":"01/27/21","v":1},{"m":"S477N","d":"02/06/21","v":1.3},{"m":"S477N","d":"02/16/21","v":1.4},{"m":"S477N","d":"02/26/21","v":1},{"m":"S477N","d":"03/08/21","v":1},{"m":"S477N","d":"03/18/21","v":1},{"m":"S477N","d":"03/28/21","v":1},
{"m":"P479S","d":"08/30/20","v":1.45},{"m":"P479S","d":"09/09/20","v":1},{"m":"P479S","d":"09/19/20","v":1},{"m":"P479S","d":"09/29/20","v":1},{"m":"P479S","d":"10/09/20","v":1},{"m":"P479S","d":"10/19/20","v":1},{"m":"P479S","d":"10/29/20","v":1},{"m":"P479S","d":"11/08/20","v":1},{"m":"P479S","d":"11/18/20","v":1},{"m":"P479S","d":"11/28/20","v":1},{"m":"P479S","d":"12/08/20","v":1},{"m":"P479S","d":"12/18/20","v":1},{"m":"P479S","d":"12/28/20","v":1},{"m":"P479S","d":"01/07/21","v":1},{"m":"P479S","d":"01/17/21","v":1},{"m":"P479S","d":"01/27/21","v":1},{"m":"P479S","d":"02/06/21","v":1},{"m":"P479S","d":"02/16/21","v":1},{"m":"P479S","d":"02/26/21","v":1},{"m":"P479S","d":"03/08/21","v":1},{"m":"P479S","d":"03/18/21","v":1},{"m":"P479S","d":"03/28/21","v":1},
{"m":"F490S","d":"09/09/20","v":1.45},{"m":"F490S","d":"09/19/20","v":1},{"m":"F490S","d":"09/29/20","v":1},{"m":"F490S","d":"10/09/20","v":1},{"m":"F490S","d":"10/19/20","v":1},{"m":"F490S","d":"10/29/20","v":1},{"m":"F490S","d":"11/08/20","v":1},{"m":"F490S","d":"11/18/20","v":1},{"m":"F490S","d":"11/28/20","v":1},{"m":"F490S","d":"12/08/20","v":1},{"m":"F490S","d":"12/18/20","v":1},{"m":"F490S","d":"12/28/20","v":1},{"m":"F490S","d":"01/07/21","v":1},{"m":"F490S","d":"01/17/21","v":1},{"m":"F490S","d":"01/27/21","v":1},{"m":"F490S","d":"02/06/21","v":1},{"m":"F490S","d":"02/16/21","v":1},{"m":"F490S","d":"02/26/21","v":1},{"m":"F490S","d":"03/08/21","v":1},{"m":"F490S","d":"03/18/21","v":1},{"m":"F490S","d":"03/28/21","v":1},
{"m":"R346K","d":"09/29/20","v":1.45},{"m":"R346K","d":"10/09/20","v":1},{"m":"R346K","d":"10/19/20","v":1},{"m":"R346K","d":"10/29/20","v":1},{"m":"R346K","d":"11/08/20","v":1},{"m":"R346K","d":"11/18/20","v":1},{"m":"R346K","d":"11/28/20","v":1},{"m":"R346K","d":"12/08/20","v":1},{"m":"R346K","d":"12/18/20","v":1},{"m":"R346K","d":"12/28/20","v":1},{"m":"R346K","d":"01/07/21","v":1},{"m":"R346K","d":"01/17/21","v":1},{"m":"R346K","d":"01/27/21","v":1},{"m":"R346K","d":"02/06/21","v":1},{"m":"R346K","d":"02/16/21","v":1},{"m":"R346K","d":"02/26/21","v":1},{"m":"R346K","d":"03/08/21","v":1},{"m":"R346K","d":"03/18/21","v":1},{"m":"R346K","d":"03/28/21","v":1},
{"m":"S477I","d":"10/19/20","v":0.5},{"m":"S477I","d":"10/29/20","v":0},{"m":"S477I","d":"11/08/20","v":0},{"m":"S477I","d":"11/18/20","v":0},{"m":"S477I","d":"11/28/20","v":0},{"m":"S477I","d":"12/08/20","v":0},{"m":"S477I","d":"12/18/20","v":0},{"m":"S477I","d":"12/28/20","v":0},{"m":"S477I","d":"01/07/21","v":0},{"m":"S477I","d":"01/17/21","v":0},{"m":"S477I","d":"01/27/21","v":0},{"m":"S477I","d":"02/06/21","v":0},{"m":"S477I","d":"02/16/21","v":0},{"m":"S477I","d":"02/26/21","v":0},{"m":"S477I","d":"03/08/21","v":0},{"m":"S477I","d":"03/18/21","v":0},{"m":"S477I","d":"03/28/21","v":0},
{"m":"K417N","d":"11/08/20","v":1.45},{"m":"K417N","d":"11/18/20","v":1},{"m":"K417N","d":"11/28/20","v":1},{"m":"K417N","d":"12/08/20","v":1},{"m":"K417N","d":"12/18/20","v":1},{"m":"K417N","d":"12/28/20","v":1},{"m":"K417N","d":"01/07/21","v":1},{"m":"K417N","d":"01/17/21","v":1},{"m":"K417N","d":"01/27/21","v":1},{"m":"K417N","d":"02/06/21","v":1},{"m":"K417N","d":"02/16/21","v":1},{"m":"K417N","d":"02/26/21","v":1},{"m":"K417N","d":"03/08/21","v":1},{"m":"K417N","d":"03/18/21","v":1},{"m":"K417N","d":"03/28/21","v":1},
{"m":"S494P","d":"11/08/20","v":2},{"m":"S494P","d":"11/18/20","v":1},{"m":"S494P","d":"11/28/20","v":1},{"m":"S494P","d":"12/08/20","v":1},{"m":"S494P","d":"12/18/20","v":1},{"m":"S494P","d":"12/28/20","v":1},{"m":"S494P","d":"01/07/21","v":1},{"m":"S494P","d":"01/17/21","v":1},{"m":"S494P","d":"01/27/21","v":1},{"m":"S494P","d":"02/06/21","v":1},{"m":"S494P","d":"02/16/21","v":1},{"m":"S494P","d":"02/26/21","v":1},{"m":"S494P","d":"03/08/21","v":1},{"m":"S494P","d":"03/18/21","v":1},{"m":"S494P","d":"03/28/21","v":1},
{"m":"Y451H","d":"11/08/20","v":1.45},{"m":"Y451H","d":"11/18/20","v":1},{"m":"Y451H","d":"11/28/20","v":1},{"m":"Y451H","d":"12/08/20","v":1.3},{"m":"Y451H","d":"12/18/20","v":1},{"m":"Y451H","d":"12/28/20","v":1},{"m":"Y451H","d":"01/07/21","v":1},{"m":"Y451H","d":"01/17/21","v":1},{"m":"Y451H","d":"01/27/21","v":1},{"m":"Y451H","d":"02/06/21","v":1},{"m":"Y451H","d":"02/16/21","v":1},{"m":"Y451H","d":"02/26/21","v":1},{"m":"Y451H","d":"03/08/21","v":1},{"m":"Y451H","d":"03/18/21","v":1},{"m":"Y451H","d":"03/28/21","v":1},
{"m":"K444R","d":"11/28/20","v":1.8},{"m":"K444R","d":"12/08/20","v":1},{"m":"K444R","d":"12/18/20","v":1},{"m":"K444R","d":"12/28/20","v":1},{"m":"K444R","d":"01/07/21","v":1},{"m":"K444R","d":"01/17/21","v":1},{"m":"K444R","d":"01/27/21","v":1},{"m":"K444R","d":"02/06/21","v":1},{"m":"K444R","d":"02/16/21","v":1},{"m":"K444R","d":"02/26/21","v":1},{"m":"K444R","d":"03/08/21","v":1},{"m":"K444R","d":"03/18/21","v":1},{"m":"K444R","d":"03/28/21","v":1},
{"m":"L452R","d":"12/08/20","v":1.45},{"m":"L452R","d":"12/18/20","v":1},{"m":"L452R","d":"12/28/20","v":1},{"m":"L452R","d":"01/07/21","v":1},{"m":"L452R","d":"01/17/21","v":1},{"m":"L452R","d":"01/27/21","v":1},{"m":"L452R","d":"02/06/21","v":1.32},{"m":"L452R","d":"02/16/21","v":1.22},{"m":"L452R","d":"02/26/21","v":1.4},{"m":"L452R","d":"03/08/21","v":1.42},{"m":"L452R","d":"03/18/21","v":1.47},{"m":"L452R","d":"03/28/21","v":1.41},
{"m":"E484Q","d":"12/08/20","v":1.45},{"m":"E484Q","d":"12/18/20","v":1},{"m":"E484Q","d":"12/28/20","v":1},{"m":"E484Q","d":"01/07/21","v":1},{"m":"E484Q","d":"01/17/21","v":1},{"m":"E484Q","d":"01/27/21","v":1},{"m":"E484Q","d":"02/06/21","v":1.3},{"m":"E484Q","d":"02/16/21","v":1.2},{"m":"E484Q","d":"02/26/21","v":1.4},{"m":"E484Q","d":"03/08/21","v":1.42},{"m":"E484Q","d":"03/18/21","v":1.47},{"m":"E484Q","d":"03/28/21","v":1.38},
{"m":"D405Y","d":"12/08/20","v":1.45},{"m":"D405Y","d":"12/18/20","v":1},{"m":"D405Y","d":"12/28/20","v":1},{"m":"D405Y","d":"01/07/21","v":1},{"m":"D405Y","d":"01/17/21","v":1},{"m":"D405Y","d":"01/27/21","v":1},{"m":"D405Y","d":"02/06/21","v":1},{"m":"D405Y","d":"02/16/21","v":1},{"m":"D405Y","d":"02/26/21","v":1},{"m":"D405Y","d":"03/08/21","v":1},{"m":"D405Y","d":"03/18/21","v":1},{"m":"D405Y","d":"03/28/21","v":1},
{"m":"A475V","d":"12/18/20","v":1.45},{"m":"A475V","d":"12/28/20","v":1},{"m":"A475V","d":"01/07/21","v":1},{"m":"A475V","d":"01/17/21","v":1},{"m":"A475V","d":"01/27/21","v":1},{"m":"A475V","d":"02/06/21","v":1},{"m":"A475V","d":"02/16/21","v":1},{"m":"A475V","d":"02/26/21","v":1},{"m":"A475V","d":"03/08/21","v":1},{"m":"A475V","d":"03/18/21","v":1},{"m":"A475V","d":"03/28/21","v":1},
{"m":"E406Q","d":"12/28/20","v":1.45},{"m":"E406Q","d":"01/07/21","v":1},{"m":"E406Q","d":"01/17/21","v":1},{"m":"E406Q","d":"01/27/21","v":1},{"m":"E406Q","d":"02/06/21","v":1},{"m":"E406Q","d":"02/16/21","v":1},{"m":"E406Q","d":"02/26/21","v":1},{"m":"E406Q","d":"03/08/21","v":1},{"m":"E406Q","d":"03/18/21","v":1},{"m":"E406Q","d":"03/28/21","v":1},
{"m":"N439K","d":"12/28/20","v":1.8},{"m":"N439K","d":"01/07/21","v":1},{"m":"N439K","d":"01/17/21","v":1},{"m":"N439K","d":"01/27/21","v":1},{"m":"N439K","d":"02/06/21","v":1},{"m":"N439K","d":"02/16/21","v":1},{"m":"N439K","d":"02/26/21","v":1},{"m":"N439K","d":"03/08/21","v":1},{"m":"N439K","d":"03/18/21","v":1},{"m":"N439K","d":"03/28/21","v":1},
{"m":"N501Y","d":"12/28/20","v":1.8},{"m":"N501Y","d":"01/07/21","v":1.42},{"m":"N501Y","d":"01/17/21","v":1.42},{"m":"N501Y","d":"01/27/21","v":1.12},{"m":"N501Y","d":"02/06/21","v":1.25},{"m":"N501Y","d":"02/16/21","v":1.02},{"m":"N501Y","d":"02/26/21","v":1.18},{"m":"N501Y","d":"03/08/21","v":1.22},{"m":"N501Y","d":"03/18/21","v":1.33},{"m":"N501Y","d":"03/28/21","v":1.2},
{"m":"E406D","d":"01/17/21","v":1.45},{"m":"E406D","d":"01/27/21","v":1},{"m":"E406D","d":"02/06/21","v":1},{"m":"E406D","d":"02/16/21","v":1},{"m":"E406D","d":"02/26/21","v":1},{"m":"E406D","d":"03/08/21","v":1},{"m":"E406D","d":"03/18/21","v":1},{"m":"E406D","d":"03/28/21","v":1},
{"m":"E484K","d":"02/06/21","v":1.45},{"m":"E484K","d":"02/16/21","v":1.45},{"m":"E484K","d":"02/26/21","v":1.45},{"m":"E484K","d":"03/08/21","v":1.45},{"m":"E484K","d":"03/18/21","v":1.3},{"m":"E484K","d":"03/28/21","v":1.17},
{"m":"V382L","d":"02/16/21","v":1.45},{"m":"V382L","d":"02/26/21","v":1},{"m":"V382L","d":"03/08/21","v":1},{"m":"V382L","d":"03/18/21","v":1},{"m":"V382L","d":"03/28/21","v":1},
{"m":"T478K","d":"03/28/21","v":1.85},{"m":"V445A","d":"03/28/21","v":1.45}],
"freq":[{"m":"R408I","f":"Freq","v":1},{"m":"N440K","f":"Freq","v":4.5},{"m":"S438F","f":"Freq","v":1.6},{"m":"I434K","f":"Freq","v":1},{"m":"G476S","f":"Freq","v":1},{"m":"N450K","f":"Freq","v":1},{"m":"E471Q","f":"Freq","v":1.5},{"m":"P330S","f":"Freq","v":1.9},{"m":"A520S","f":"Freq","v":3.1},{"m":"A348S","f":"Freq","v":1.6},{"m":"V367F","f":"Freq","v":1},{"m":"S373L","f":"Freq","v":1},{"m":"T470N","f":"Freq","v":1},{"m":"A522S","f":"Freq","v":2},{"m":"E484D","f":"Freq","v":1},{"m":"P521S","f":"Freq","v":1.5},{"m":"P384S","f":"Freq","v":1},{"m":"G482S","f":"Freq","v":1},{"m":"N481D","f":"Freq","v":1},{"m":"R346T","f":"Freq","v":1.5},{"m":"V483F","f":"Freq","v":1},{"m":"E471D","f":"Freq","v":1},{"m":"A344T","f":"Freq","v":1},{"m":"S443A","f":"Freq","v":1},{"m":"T385I","f":"Freq","v":1},{"m":"A419S","f":"Freq","v":1},{"m":"P384L","f":"Freq","v":2.4},{"m":"D427A","f":"Freq","v":1},{"m":"E465D","f":"Freq","v":1},{"m":"V367I","f":"Freq","v":1},{"m":"S477N","f":"Freq","v":2.2},{"m":"P479S","f":"Freq","v":1},{"m":"F490S","f":"Freq","v":1},{"m":"R346K","f":"Freq","v":1},{"m":"S477I","f":"Freq","v":1},{"m":"K417N","f":"Freq","v":1},{"m":"S494P","f":"Freq","v":2.2},{"m":"Y451H","f":"Freq","v":1.5},{"m":"K444R","f":"Freq","v":1.5},{"m":"L452R","f":"Freq","v":4.1},{"m":"E484Q","f":"Freq","v":4.1},{"m":"D405Y","f":"Freq","v":1},{"m":"A475V","f":"Freq","v":1},{"m":"E406Q","f":"Freq","v":1},{"m":"N439K","f":"Freq","v":1.5},{"m":"N501Y","f":"Freq","v":3.7},{"m":"E406D","f":"Freq","v":1},{"m":"E484K","f":"Freq","v":3.5},{"m":"V382L","f":"Freq","v":1},{"m":"T478K","f":"Freq","v":1.9},{"m":"V445A","f":"Freq","v":1}]},
"vconcat":[
{"width":1036,"height":449,"view":{"fill":"#efefef"},
"resolve":{"axis":{"x":"independent","y":"independent"},"scale":{"color":"independent"}},
"layer":[
{"data":{"values":[]},"mark":"rect","encoding":{
"x":{"field":"m","type":"nominal","scale":{"domain":["R408I","N440K","S438F","I434K","G476S","N450K","E471Q","P330S","A520S","A348S","V367F","S373L","T470N","A522S","E484D","P521S","P384S","G482S","N481D","R346T","V483F","E471D","A344T","S443A","T385I","A419S","P384L","D427A","E465D","V367I","S477N","P479S","F490S","R346K","S477I","K417N","S494P","Y451H","K444R","L452R","E484Q","D405Y","A475V","E406Q","N439K","N501Y","E406D","E484K","V382L","T478K","V445A"],"paddingInner":0,"paddingOuter":0},"axis":{"orient":"top","grid":true,"bandPosition":0,"gridColor":"#ffffff","gridOpacity":0.35,"gridWidth":0.6,"labels":false,"ticks":false}},
"y":{"field":"d","type":"nominal","scale":{"domain":["01/03/20","01/13/20","01/23/20","02/02/20","02/12/20","02/22/20","03/03/20","03/13/20","03/23/20","04/02/20","04/12/20","04/22/20","05/02/20","05/12/20","05/22/20","06/01/20","06/11/20","06/21/20","07/01/20","07/11/20","07/21/20","07/31/20","08/10/20","08/20/20","08/30/20","09/09/20","09/19/20","09/29/20","10/09/20","10/19/20","10/29/20","11/08/20","11/18/20","11/28/20","12/08/20","12/18/20","12/28/20","01/07/21","01/17/21","01/27/21","02/06/21","02/16/21","02/26/21","03/08/21","03/18/21","03/28/21"],"paddingInner":0,"paddingOuter":0.096,"align":1},"axis":{"orient":"right","grid":true,"bandPosition":0,"gridColor":"#ffffff","gridOpacity":0.35,"gridWidth":0.6,"labels":false,"ticks":false}}}},
{"data":{"name":"cells"},"transform":[{"filter":"datum.v>=1"}],"mark":{"type":"rect","stroke":"#ffffff","strokeWidth":0.5,"strokeOpacity":0.2},"encoding":{
"x":{"field":"m","type":"nominal","axis":{"orient":"bottom","labels":false,"tickSize":3}},
"y":{"field":"d","type":"nominal","axis":{"orient":"left","values":["01/13/20","02/02/20","02/22/20","03/13/20","04/02/20","04/22/20","05/12/20","06/01/20","06/21/20","07/11/20","07/31/20","08/20/20","09/09/20","09/29/20","10/19/20","11/08/20","11/28/20","12/18/20","01/07/21","01/27/21","02/16/21","03/08/21","03/28/21"],"tickSize":3,"labelPadding":2}},
"color":{"field":"v","type":"quantitative","scale":{"domain":[1,1.3,1.45,1.8,2],"range":["#b7d6f1","#72add8","#4f8bc4","#2f5aa8","#27318e"]},"legend":{"title":null,"orient":"none","legendX":1063,"legendY":0,"gradientLength":171,"gradientThickness":11,"gradientStrokeColor":"#999999","gradientStrokeWidth":1,"values":[1,2],"labelExpr":"datum.value==1?'0/1':'1'","labelOverlap":false}}}},
{"data":{"name":"cells"},"transform":[{"filter":"datum.v<1"}],"mark":{"type":"rect","stroke":"#ffffff","strokeWidth":0.5,"strokeOpacity":0.2},"encoding":{
"x":{"field":"m","type":"nominal","axis":null},
"y":{"field":"d","type":"nominal","axis":null},
"color":{"field":"v","type":"quantitative","scale":{"domain":[0,0.5,1],"range":["#fcc0bd","#f44b45","#8b0000"]},"legend":{"title":null,"orient":"none","legendX":1063,"legendY":171,"gradientLength":171,"gradientThickness":11,"gradientStrokeColor":"#999999","gradientStrokeWidth":1,"values":[0],"labelExpr":"'0'","labelOverlap":false}}}},
{"data":{"values":[{"m":"V382L","d":"02/02/20","t":"IN"}]},"mark":{"type":"text","fontSize":11,"color":"#555555","dx":-8,"dy":-3},"encoding":{"x":{"field":"m","type":"nominal","axis":null},"y":{"field":"d","type":"nominal","axis":null},"text":{"field":"t"}}}
]},
{"width":1036,"height":15,"data":{"name":"freq"},"mark":{"type":"rect","stroke":"#ffffff","strokeWidth":0.5,"strokeOpacity":0.2},"encoding":{
"x":{"field":"m","type":"nominal","scale":{"domain":["R408I","N440K","S438F","I434K","G476S","N450K","E471Q","P330S","A520S","A348S","V367F","S373L","T470N","A522S","E484D","P521S","P384S","G482S","N481D","R346T","V483F","E471D","A344T","S443A","T385I","A419S","P384L","D427A","E465D","V367I","S477N","P479S","F490S","R346K","S477I","K417N","S494P","Y451H","K444R","L452R","E484Q","D405Y","A475V","E406Q","N439K","N501Y","E406D","E484K","V382L","T478K","V445A"],"paddingInner":0,"paddingOuter":0},"axis":{"labelAngle":90,"labelAlign":"left","labelBaseline":"middle","labelFontSize":10.2,"tickSize":4,"labelPadding":6,"labelOverlap":false}},
"y":{"field":"f","type":"nominal","scale":{"paddingInner":0,"paddingOuter":0},"axis":{"tickSize":3,"labelPadding":2}},
"color":{"field":"v","type":"quantitative","scale":{"domain":[0.66,2,3,4.52],"range":["#f7e0ef","#d9bbdd","#a582bc","#5a4898"]},"legend":{"title":null,"orient":"none","legendX":1063,"legendY":-91,"gradientLength":107,"gradientThickness":11,"gradientStrokeColor":"#999999","gradientStrokeWidth":1,"values":[1,2,3,4],"labelOverlap":false}}}}
],"resolve":{"scale":{"color":"independent"}}}
